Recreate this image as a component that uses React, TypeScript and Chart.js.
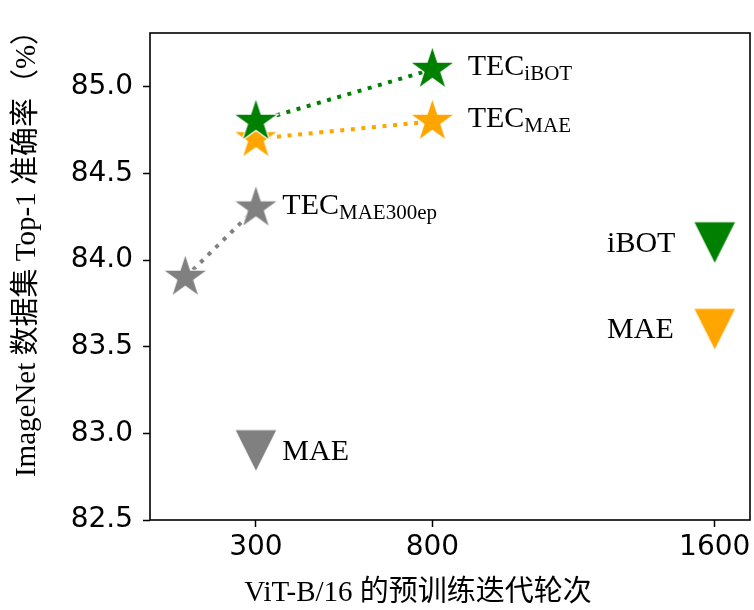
import React, { useEffect, useRef } from 'react';
import { Chart, registerables } from 'chart.js';

Chart.register(...registerables);

// ---------- data ----------
const tecIbotEpochs = [300, 800];
const tecIbotAcc = [84.8, 85.1];
const tecMaeEpochs = [300, 800];
const tecMaeAcc = [84.7, 84.8];
const tecMae300Epochs = [100, 300];
const tecMae300Acc = [83.9, 84.3];

const baselineNames = ['iBOT', 'MAE', 'MAE'];
const baselineEpochs = [1600, 1600, 300];
const baselineAcc = [84.1, 83.6, 82.9];

const xTicks = [300, 800, 1600];
const yTicks = [82.5, 83.0, 83.5, 84.0, 84.5, 85.0];

// annotation texts: main, subscript, anchor in data coords
const labelMain = ['TEC', 'TEC', 'TEC', 'MAE', 'iBOT', 'MAE'];
const labelSub = ['iBOT', 'MAE', 'MAE300ep', '', '', ''];
const labelX = [900, 900, 375, 375, 1295, 1295];
const labelY = [85.1, 84.8, 84.3, 82.9, 84.1, 83.6];

const xTitle = 'ViT-B/16 的预训练迭代轮次';
const yTitle = 'ImageNet 数据集 Top-1 准确率（%）';

// ---------- styles ----------
const GREEN = '#008000';
const ORANGE = '#FFA500';
const GRAY = '#808080';
const SERIF = '"Liberation Serif", "Noto Sans CJK SC", serif';

function makeStar(color: string, R: number): HTMLCanvasElement {
  const pad = 2;
  const size = Math.ceil(2 * R + 2 * pad);
  const c = document.createElement('canvas');
  c.width = size;
  c.height = size;
  const ctx = c.getContext('2d')!;
  const cx = size / 2;
  const cy = size / 2;
  const r = R * 0.381966;
  ctx.beginPath();
  for (let k = 0; k < 10; k++) {
    const a = -Math.PI / 2 + (k * Math.PI) / 5;
    const rad = k % 2 === 0 ? R : r;
    const px = cx + rad * Math.cos(a);
    const py = cy + rad * Math.sin(a);
    if (k === 0) ctx.moveTo(px, py);
    else ctx.lineTo(px, py);
  }
  ctx.closePath();
  ctx.fillStyle = color;
  ctx.fill();
  ctx.lineWidth = 1.2;
  ctx.strokeStyle = '#ffffff';
  ctx.stroke();
  return c;
}

function makeTriDown(color: string, h: number): HTMLCanvasElement {
  const pad = 2;
  const size = Math.ceil(2 * h + 2 * pad);
  const c = document.createElement('canvas');
  c.width = size;
  c.height = size;
  const ctx = c.getContext('2d')!;
  const cx = size / 2;
  const cy = size / 2;
  ctx.beginPath();
  ctx.moveTo(cx - h, cy - h);
  ctx.lineTo(cx + h, cy - h);
  ctx.lineTo(cx, cy + h);
  ctx.closePath();
  ctx.fillStyle = color;
  ctx.fill();
  ctx.lineWidth = 1;
  ctx.strokeStyle = '#ffffff';
  ctx.stroke();
  return c;
}

const pts = (xs: number[], ys: number[]) => xs.map((x, i) => ({ x, y: ys[i] }));

const framePlugin = {
  id: 'frame',
  afterDraw(chart: any) {
    const { ctx, chartArea: a } = chart;
    ctx.save();
    ctx.strokeStyle = '#000';
    ctx.lineWidth = 1.6;
    ctx.strokeRect(a.left, a.top, a.right - a.left, a.bottom - a.top);
    ctx.restore();
  },
};

const textPlugin = {
  id: 'texts',
  afterDraw(chart: any) {
    const { ctx, scales, chartArea: a } = chart;
    const xs = scales.x;
    const ys = scales.y;
    ctx.save();
    ctx.fillStyle = '#000';
    ctx.textBaseline = 'alphabetic';
    ctx.textAlign = 'left';
    for (let i = 0; i < labelMain.length; i++) {
      const px = xs.getPixelForValue(labelX[i]);
      const py = ys.getPixelForValue(labelY[i]);
      const hasSub = labelSub[i] !== '';
      const base = py + (hasSub ? 6 : 9);
      ctx.font = `30px ${SERIF}`;
      ctx.fillText(labelMain[i], px, base);
      if (hasSub) {
        const w = ctx.measureText(labelMain[i]).width;
        ctx.font = `21px ${SERIF}`;
        ctx.fillText(labelSub[i], px + w, base + 5);
      }
    }
    // axis titles
    ctx.font = `29px ${SERIF}`;
    ctx.textAlign = 'center';
    ctx.textBaseline = 'alphabetic';
    ctx.fillText(xTitle, (a.left + a.right) / 2 - 32, 601);
    ctx.save();
    ctx.translate(27, (a.top + a.bottom) / 2 - 30);
    ctx.rotate(-Math.PI / 2);
    ctx.textBaseline = 'middle';
    ctx.fillText(yTitle, 0, 0);
    ctx.restore();
    ctx.restore();
  },
};

export default function App() {
  const ref = useRef<HTMLCanvasElement | null>(null);

  useEffect(() => {
    const canvas = ref.current;
    if (!canvas) return;
    const starR = 23.5;
    const triH = 21;
    const lineCommon = {
      showLine: true,
      pointRadius: 0,
      borderWidth: 4,
      borderDash: [4, 6.6],
      borderCapStyle: 'butt' as const,
      fill: false,
      order: 10,
    };
    const baseColors = [GREEN, ORANGE, GRAY];
    const chart = new Chart(canvas, {
      type: 'scatter',
      data: {
        datasets: [
          { label: 'TEC iBOT line', data: pts(tecIbotEpochs, tecIbotAcc), borderColor: GREEN, ...lineCommon },
          { label: 'TEC MAE line', data: pts(tecMaeEpochs, tecMaeAcc), borderColor: ORANGE, ...lineCommon },
          { label: 'TEC MAE300ep line', data: pts(tecMae300Epochs, tecMae300Acc), borderColor: GRAY, ...lineCommon },
          {
            label: 'TEC iBOT',
            data: pts(tecIbotEpochs, tecIbotAcc),
            pointStyle: makeStar(GREEN, starR) as any,
            pointRadius: 20,
            order: 0,
          },
          {
            label: 'TEC MAE',
            data: pts(tecMaeEpochs, tecMaeAcc),
            pointStyle: makeStar(ORANGE, starR) as any,
            pointRadius: 20,
            order: 1,
          },
          {
            label: 'TEC MAE300ep',
            data: pts(tecMae300Epochs, tecMae300Acc),
            pointStyle: makeStar(GRAY, starR) as any,
            pointRadius: 20,
            order: 2,
          },
          ...baselineNames.map((name, i) => ({
            label: name,
            data: [{ x: baselineEpochs[i], y: baselineAcc[i] }],
            pointStyle: makeTriDown(baseColors[i], triH) as any,
            pointRadius: 20,
            order: 3,
          })),
        ],
      },
      options: {
        responsive: false,
        animation: false,
        devicePixelRatio: 1,
        events: [],
        layout: { autoPadding: false, padding: { top: 33, right: 4, left: 0, bottom: 0 } },
        plugins: {
          legend: { display: false },
          tooltip: { enabled: false },
        },
        scales: {
          x: {
            type: 'linear',
            min: 0,
            max: 1700,
            afterBuildTicks: (s: any) => {
              s.ticks = xTicks.map((v) => ({ value: v }));
            },
            afterFit: (s: any) => {
              s.height = 90;
              s.paddingLeft = 0;
              s.paddingRight = 0;
            },
            grid: {
              drawOnChartArea: false,
              drawTicks: true,
              tickLength: 7,
              tickWidth: 1.5,
              tickColor: '#000',
            },
            border: { display: false },
            ticks: {
              color: '#000',
              font: { family: 'DejaVu Sans', size: 28 },
              padding: 4,
              maxRotation: 0,
              autoSkip: false,
              callback: (v: any) => String(v),
            },
          },
          y: {
            type: 'linear',
            min: 82.5,
            max: 85.31,
            afterBuildTicks: (s: any) => {
              s.ticks = yTicks.map((v) => ({ value: v }));
            },
            afterFit: (s: any) => {
              s.width = 150;
              s.paddingTop = 0;
              s.paddingBottom = 0;
            },
            grid: {
              drawOnChartArea: false,
              drawTicks: true,
              tickLength: 7,
              tickWidth: 1.5,
              tickColor: '#000',
            },
            border: { display: false },
            ticks: {
              color: '#000',
              font: { family: 'DejaVu Sans', size: 28 },
              padding: 10,
              autoSkip: false,
              callback: (v: any) => Number(v).toFixed(1),
            },
          },
        },
      },
      plugins: [framePlugin, textPlugin],
    });
    return () => chart.destroy();
  }, []);

  return (
    <div style={{ position: 'fixed', left: 0, top: 0, width: 754, height: 610, background: '#fff' }}>
      <canvas ref={ref} width={754} height={610} style={{ width: 754, height: 610, display: 'block' }} />
    </div>
  );
}
